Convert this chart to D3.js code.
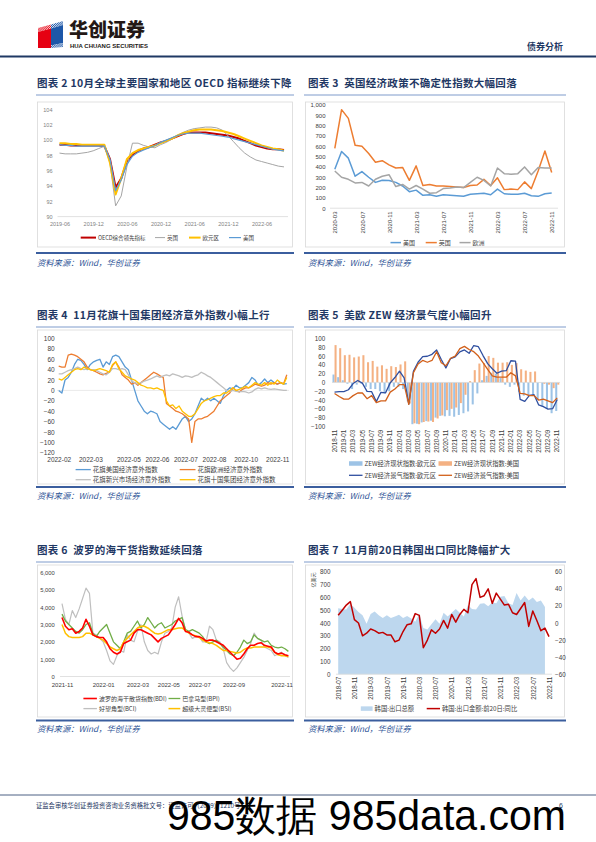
<!DOCTYPE html>
<html><head><meta charset="utf-8">
<script src="https://cdn.jsdelivr.net/npm/d3@7"></script>
<style>body{margin:0;background:#fff;}svg{display:block;}</style>
</head><body>
<svg id="page" width="596" height="842"></svg>
<script>
// ---------------- DATA ----------------
function monthSeq(y, m, n){const o=[];for(let i=0;i<n;i++){const k=m-1+i;o.push(`${y+Math.floor(k/12)}-${String(k%12+1).padStart(2,'0')}`);}return o;}

// Chart 2: OECD leading indicators (2019-06 .. 2022-10)
const months2 = monthSeq(2019,6,41);
const ticks2 = ['2019-06','2019-12','2020-06','2020-12','2021-06','2021-12','2022-06'];
const oecd2 = [99.4,99.4,99.3,99.3,99.3,99.3,99.3,99.3,99.2,97.5,93.8,95.0,97.2,98.1,98.6,98.9,99.1,99.4,99.7,99.9,100.2,100.5,100.8,101.0,101.0,101.0,101.0,100.9,100.8,100.7,100.6,100.4,100.2,99.9,99.6,99.3,99.1,98.9,98.8,98.8,98.7];
const uk2   = [98.3,98.2,98.2,98.2,98.3,98.4,98.6,98.9,99.2,97.0,91.4,92.7,96.5,99.6,99.6,99.3,99.1,99.0,99.4,99.7,100.1,100.6,101.0,101.3,101.5,101.6,101.7,101.7,101.6,101.3,100.6,99.8,99.0,98.3,97.8,97.4,97.2,97.0,96.8,96.6,96.5];
const euro2 = [99.6,99.6,99.5,99.5,99.4,99.4,99.4,99.4,99.4,97.0,92.9,95.0,97.5,98.3,98.7,98.9,99.1,99.3,99.6,99.9,100.2,100.6,100.9,101.1,101.3,101.4,101.4,101.4,101.3,101.2,101.0,100.8,100.5,100.2,99.9,99.6,99.3,99.1,98.9,98.8,98.6];
const us2   = [99.4,99.3,99.3,99.2,99.2,99.2,99.2,99.2,99.2,97.5,93.4,94.8,96.8,97.9,98.4,98.7,99.0,99.3,99.7,100.0,100.3,100.6,100.8,100.9,100.9,100.9,100.8,100.7,100.6,100.5,100.4,100.2,100.0,99.8,99.6,99.4,99.2,99.0,98.8,98.7,98.6];

// Chart 3: policy uncertainty (2020-03 .. 2022-11)
const months3 = monthSeq(2020,3,33);
const ticks3 = ['2020-03','2020-07','2020-11','2021-03','2021-07','2021-11','2022-03','2022-07','2022-11'];
const us3 = [377,550,485,310,355,300,250,270,268,250,215,160,175,125,130,115,130,125,120,115,135,140,145,130,185,140,135,135,145,120,115,140,148];
const uk3 = [580,955,870,610,600,530,445,460,420,390,395,270,410,220,230,215,215,210,205,200,220,225,280,220,295,180,185,180,255,190,360,555,345];
const eu3 = [360,300,280,245,250,215,280,310,325,210,230,185,220,185,145,150,190,195,205,200,250,300,270,215,390,335,330,335,400,325,395,390,390];

// Chart 4: Citi economic surprise indices (sampled trading days)
const tickIdx4 = [0,10,22,31,40,49,59,69];
const tickLab4 = ['2022-02','2022-03','2022-05','2022-06','2022-07','2022-08','2022-10','2022-11'];
const usSurp = [0,-5,20,25,35,50,60,58,50,40, 50,55,58,60,45,55,50,65,68,65, 55,45,40,20,0,-20,-30,-40,-45,-40, -42,-45,-60,-65,-70,-75,-70,-75,-65,-55, -50,-60,-55,-45,-30,-15,-20,-15,-20,-15, -20,-25,-10,0,5,3,10,5,5,10, 15,25,20,10,15,22,15,20,15,12, 15,12,13];
const euSurp = [47,45,45,68,70,68,65,60,55,45, 40,38,35,32,30,33,35,48,55,45, 30,25,20,12,15,10,15,20,25,30, 35,32,28,25,-25,-30,-35,-40,-42,-45, -50,-55,-100,-60,-55,-55,-52,-50,-45,-40, -30,-20,-15,-10,-5,5,0,-3,2,5, 5,8,12,10,8,10,15,12,15,12, 15,13,30];
const emSurp = [32,32,35,38,40,42,45,42,40,42, 40,40,38,35,32,30,35,42,42,40, 42,40,30,18,15,12,15,18,20,22, 25,28,25,28,30,28,32,30,28,25, 28,27,25,28,30,35,32,28,25,20, 15,10,5,0,-2,0,-2,-3,-2,-3, -5,-3,2,5,3,5,3,2,3,2, 1,0,0];
const g10Surp = [22,20,25,30,35,40,42,40,45,42, 40,38,40,42,40,38,35,50,55,42, 35,28,25,22,20,15,10,8,5,5, 3,5,2,0,-20,-30,-28,-35,-30,-40, -45,-50,-50,-45,-35,-25,-20,-18,-15,-12, -10,-10,-5,-5,0,5,0,2,5,8, 5,10,15,12,10,15,10,15,12,20, 15,12,25];

// Chart 5: ZEW (2018-11 .. 2022-11)
const months5 = monthSeq(2018,11,49);
const euCur5 = [18,12,5,-3,-15,-5,-3,-10,-15,-15, -20,-25,-20,-10,-10,-15,-43,-95,-94,-91, -88,-87,-80,-76,-77,-76,-78,-74,-70,-66, -50,-25,5,15,22,20,10,-5,-10,-5, -22,-30,-30,-27,-40,-55,-60,-70,-65];
const usCur5 = [85,78,62,63,57,59,62,46,49,36, 39,31,37,35,41,48,-48,-93,-95,-90, -89,-90,-82,-75,-63,-60,-57,-47,-28,3, 28,43,44,60,56,45,45,46,40,44, 30,27,24,25,0,-3,-5,-13,-5];
const euExp5 = [-22,-21,-20.9,-16.6,-2.5,4.5,-1.6,-20.2,-21.1,-43.6, -22.4,-23.5,-1,11.2,25.6,10.4,-49.5,25.2,46,58.6, 59.6,64,73.9,52.3,32.8,54.4,58.3,69.6,74,66.3, 84,81.3,61.2,42.7,31.1,21,25.9,26.8,49.4,48.6, -38.7,-43,-29.5,-28,-51.1,-54.9,-60.7,-59.7,-38.7];
const usExp5 = [-25,-32,-38,-38,-30,-24,-24,-37,-30,-46, -42,-42,-22,-15,-5,-5,-50,22,42,50, 46,50,70,45,38,55,60,77,82,75, 70,60,45,30,15,12,12,12,22,15, -25,-26,-30,-30,-40,-38,-42,-46,-35];

// Chart 6: Baltic indices (sampled trading days)
const tickIdx6 = [0,12,22,31,40,50,64];
const tickLab6 = ['2021-11','2022-01','2022-03','2022-05','2022-07','2022-09','2022-11'];
const bdi = [3400,2900,2700,2750,2500,2600,2800,3300,2900,2400, 2300,2250,2250,2000,1600,1400,1300,1400,1900,2000, 2100,2500,2700,2700,2600,2500,2400,2200,2000,2200, 2300,2400,2700,3000,3350,3100,2600,2550,2400,2300, 2300,2200,2050,2100,2100,2000,1900,1800,1600,1400, 1200,1000,1050,1300,1600,1800,1800,1900,1950,1800, 1750,1700,1400,1300,1350,1250,1200];
const bpi = [3600,3200,3000,2800,2600,2500,2700,3000,3100,2500, 2300,2600,2800,3000,2500,2000,1800,1600,2000,2500, 2600,2900,3200,2800,3000,3400,3100,2800,3000,3100, 2800,2900,3000,3200,3300,3400,2700,2600,2700,2600, 2500,2300,2000,1900,2000,2100,1900,1700,1500,1300, 1200,1400,1700,2100,1900,2000,2400,2200,2100,2000, 2050,1800,1700,1650,1700,1600,1450];
const bci = [4200,3300,3000,3800,3400,3900,4500,5100,4800,2500, 2400,2200,2000,1500,900,700,1200,1500,1400,2400, 2100,2000,2600,3000,2000,1500,1300,1400,1300,2000, 2500,2600,2800,4000,4600,3500,2700,2500,2200,2300, 2300,2000,2000,2900,2700,2100,2000,1600,800,500, 300,500,800,1100,1500,1900,2500,2200,2100,1700, 1600,1500,1200,1300,1400,1200,1100];
const bsi = [3000,2500,2300,2250,2250,2250,2300,2500,2500,2400, 2300,2200,2100,1900,1700,1600,1500,1600,2000,2200, 2400,2600,2800,2900,2900,2800,2650,2500,2450,2500, 2600,2700,2700,2750,2800,2800,2650,2500,2400,2350, 2250,2100,2000,1950,1900,1800,1650,1500,1500,1450, 1400,1350,1400,1550,1650,1650,1700,1700,1700,1700, 1700,1650,1400,1250,1200,1200,1150];

// Chart 7: Korea exports (2018-07 .. 2022-11)
const months7 = monthSeq(2018,7,53);
const ticks7 = ['2018-07','2018-11','2019-03','2019-07','2019-11','2020-03','2020-07','2020-11','2021-03','2021-07','2021-11','2022-03','2022-07','2022-11'];
const krExport = [515,510,505,550,520,485,460,395,470,490,460,440,460,440,450,465,440,455,435,410,470,360,350,390,430,395,480,450,480,510,480,450,540,510,505,550,555,530,560,555,605,610,555,540,635,575,615,575,600,565,575,525];
const krYoY20 = [9,15,21,25,4,0,-15,-12,-7,-9,-12,-11,-14,-14,-22,-20,-10,-2,-1,11,9,-29,-20,-8,-12,-7,3,-6,10,1,10,16,12,45,52,30,32,40,23,35,28,21,22,12,10,17,24,-4,14,3,-9,-6,-16];

// ---------------- DRAW ----------------
const svg = d3.select('#page');
svg.append('rect').attr('width',596).attr('height',842).attr('fill','#fff');
const FCJK = '"Noto Sans CJK SC","Noto Sans",sans-serif';
const FLAT = '"Liberation Sans",Arial,sans-serif';
const NAVY = '#1F3864';
const TXT = '#404040';

// header
const defs = svg.append('defs');
function hatch(id,color){
  const p=defs.append('pattern').attr('id',id).attr('patternUnits','userSpaceOnUse')
    .attr('width',1.5).attr('height',1.5).attr('patternTransform','rotate(45)');
  p.append('rect').attr('width',1.5).attr('height',1.5).attr('fill','#fff');
  p.append('rect').attr('width',0.85).attr('height',1.5).attr('fill',color);
}
hatch('hR','#E60012'); hatch('hB','#1D57A8');
const poly=(pts,fill)=>svg.append('polygon').attr('points',pts.map(p=>p.join(',')).join(' ')).attr('fill',fill);
poly([[38,32],[38,28],[51,24.5],[51,28.5]],'url(#hR)');
poly([[51,24.5],[63,21],[63,25],[51,28.5]],'url(#hB)');
poly([[38,32],[51,28.5],[51,48],[38,48]],'#E60012');
poly([[51,28.5],[63,25],[63,43],[51,45.5]],'#1D57A8');
poly([[51,45.5],[63,43],[63,47],[51,48]],'url(#hB)');
svg.append('text').attr('x',69).attr('y',37).text('华创证券')
  .attr('font-family',FCJK).attr('font-weight',900).attr('font-size',19).attr('fill','#231815');
svg.append('text').attr('x',70).attr('y',47.8).text('HUA CHUANG SECURITIES')
  .attr('font-family',FLAT).attr('font-weight',700).attr('font-size',5.6).attr('fill','#231815')
  .attr('textLength',78).attr('lengthAdjust','spacingAndGlyphs');
svg.append('text').attr('x',563).attr('y',50).attr('text-anchor','end').text('债券分析')
  .attr('font-family',FCJK).attr('font-weight',700).attr('font-size',9).attr('fill',NAVY);
svg.append('line').attr('x1',0).attr('x2',596).attr('y1',56.5).attr('y2',56.5).attr('stroke',NAVY).attr('stroke-width',2);

// frames
const cols = [{x0:36,x1:294,tx:37},{x0:304,x1:566,tx:308}];
const rows = [{tb:87,ul:95,bt:102,bb:247,bl:253,sy:266},{tb:319,ul:327,bt:330,bb:484,bl:487,sy:499},{tb:554,ul:562,bt:565,bb:717,bl:720.5,sy:732}];
function frame(c,r,title){
  const C=cols[c],R=rows[r];
  svg.append('text').attr('x',C.tx).attr('y',R.tb).text(title).style('white-space','pre')
    .attr('font-family',FCJK).attr('font-weight',700).attr('font-size',10.5).attr('letter-spacing',0.3).attr('fill',NAVY);
  svg.append('line').attr('x1',C.x0).attr('x2',C.x1).attr('y1',R.ul).attr('y2',R.ul).attr('stroke','#7F9BCB').attr('stroke-width',1);
  svg.append('rect').attr('x',C.x0+1.5).attr('y',R.bt).attr('width',C.x1-C.x0-3).attr('height',R.bb-R.bt)
    .attr('fill','none').attr('stroke','#D9D9D9').attr('stroke-width',0.8);
  svg.append('line').attr('x1',C.x0).attr('x2',C.x1).attr('y1',R.bl).attr('y2',R.bl).attr('stroke','#3B5E9E').attr('stroke-width',1.8);
  svg.append('text').attr('x',C.tx).attr('y',R.sy).text('资料来源：Wind，华创证券')
    .attr('font-family',FCJK).attr('font-style','italic').attr('font-size',8.3).attr('fill','#2F5597');
}
frame(0,0,'图表 2 10月全球主要国家和地区 OECD 指标继续下降');
frame(1,0,'图表 3  英国经济政策不确定性指数大幅回落');
frame(0,1,'图表 4  11月花旗十国集团经济意外指数小幅上行');
frame(1,1,'图表 5  美欧 ZEW 经济景气度小幅回升');
frame(0,2,'图表 6  波罗的海干货指数延续回落');
frame(1,2,'图表 7  11月前20日韩国出口同比降幅扩大');

// helpers
function styleTexts(g,size,color){g.select('.domain').remove();g.selectAll('text').attr('font-family',FLAT).attr('font-size',size).attr('fill',color);}
function yAxisL(scale,xpos,vals,fmt,size,color){const g=svg.append('g').attr('transform',`translate(${xpos},0)`).call(d3.axisLeft(scale).tickValues(vals).tickFormat(fmt).tickSize(0).tickPadding(0));styleTexts(g,size,color);return g;}
function yAxisR(scale,xpos,vals,fmt,size,color){const g=svg.append('g').attr('transform',`translate(${xpos},0)`).call(d3.axisRight(scale).tickValues(vals).tickFormat(fmt).tickSize(0).tickPadding(0));styleTexts(g,size,color);return g;}
function xAxisB(scale,ypos,vals,fmt,size,color,pad){const g=svg.append('g').attr('transform',`translate(0,${ypos})`).call(d3.axisBottom(scale).tickValues(vals).tickFormat(fmt).tickSize(0).tickPadding(pad));styleTexts(g,size,color);return g;}
function xAxisRot(scale,ypos,vals,size,color,pad){
  const g=svg.append('g').attr('transform',`translate(0,${ypos})`).call(d3.axisBottom(scale).tickValues(vals).tickSize(0));
  styleTexts(g,size,color);
  g.selectAll('text').attr('y',0).attr('x',-pad).attr('dy','0.35em').attr('transform','rotate(-90)').attr('text-anchor','end');
  return g;
}
function hline(x1,x2,y,color){svg.append('line').attr('x1',x1).attr('x2',x2).attr('y1',y).attr('y2',y).attr('stroke',color).attr('stroke-width',0.8);}
function path(data,xf,yf,color,w){svg.append('path').datum(data).attr('d',d3.line().x(xf).y(yf)).attr('fill','none').attr('stroke',color).attr('stroke-width',w).attr('stroke-linejoin','round');}
function legLine(x1,x2,y,color,w,label,size){
  svg.append('line').attr('x1',x1).attr('x2',x2).attr('y1',y).attr('y2',y).attr('stroke',color).attr('stroke-width',w);
  svg.append('text').attr('x',x2+2).attr('y',y).attr('dy','0.35em').text(label).attr('font-family',FCJK).attr('font-size',size).attr('fill',TXT);
}
function legRect(x1,x2,y,h,color,label,size){
  svg.append('rect').attr('x',x1).attr('y',y-h/2).attr('width',x2-x1).attr('height',h).attr('fill',color);
  svg.append('text').attr('x',x2+2).attr('y',y).attr('dy','0.35em').text(label).attr('font-family',FCJK).attr('font-size',size).attr('fill',TXT);
}

// ---- Chart 2 ----
{
  const x=d3.scalePoint().domain(months2).range([59.5,284]);
  const y=d3.scaleLinear().domain([90,104]).range([216.6,109.5]);
  yAxisL(y,52.5,d3.range(90,105,2),d3.format('d'),5.5,'#7F7F7F');
  hline(57.5,288,y(90),'#D9D9D9');
  xAxisB(x,y(90),ticks2,d=>d,5.5,'#7F7F7F',5.5);
  const X=(d,i)=>x(months2[i]), Y=d=>y(d);
  path(oecd2,X,Y,'#C00000',2);
  path(uk2,X,Y,'#A5A5A5',1);
  path(euro2,X,Y,'#FFC000',2);
  path(us2,X,Y,'#5B9BD5',1.2);
  legLine(80.7,96,237.6,'#C00000',2,'OECD综合领先指标',5.5);
  legLine(155,165,237.6,'#A5A5A5',1,'英国',5.5);
  legLine(189,200.6,237.6,'#FFC000',2,'欧元区',5.5);
  legLine(229,241,237.6,'#5B9BD5',1.2,'美国',5.5);
}

// ---- Chart 3 ----
{
  const x=d3.scalePoint().domain(months3).range([334.8,551.7]);
  const y=d3.scaleLinear().domain([0,1000]).range([208.2,105]);
  yAxisL(y,325.5,d3.range(0,1001,100),d3.format(','),6,TXT);
  hline(330,558,y(0),'#D9D9D9');
  xAxisRot(x,y(0),ticks3,6,TXT,3.3);
  const X=(d,i)=>x(months3[i]), Y=d=>y(d);
  path(us3,X,Y,'#5B9BD5',1.5);
  path(uk3,X,Y,'#ED7D31',1.5);
  path(eu3,X,Y,'#A5A5A5',1.5);
  legLine(390.5,401,242.6,'#5B9BD5',1.5,'美国',6);
  legLine(425.7,436.8,242.6,'#ED7D31',1.5,'英国',6);
  legLine(459.5,470.6,242.6,'#A5A5A5',1.5,'欧洲',6);
}

// ---- Chart 4 ----
{
  const x=d3.scaleLinear().domain([0,72]).range([58.7,286.8]);
  const y=d3.scaleLinear().domain([-120,100]).range([452.7,338.5]);
  yAxisL(y,54.7,d3.range(-120,101,20),d3.format('d'),6.5,TXT);
  hline(57,289,y(0),'#E4E4E4');
  xAxisB(x,y(-120),tickIdx4,(d,i)=>tickLab4[i],6.5,TXT,5);
  const X=(d,i)=>x(i), Y=d=>y(d);
  path(usSurp,X,Y,'#5B9BD5',1.3);
  path(euSurp,X,Y,'#ED7D31',1.3);
  path(emSurp,X,Y,'#BFBFBF',1.3);
  path(g10Surp,X,Y,'#FFC000',1.3);
  legLine(75.6,90.8,469.6,'#5B9BD5',1.3,'花旗美国经济意外指数',6.5);
  legLine(179.7,195.5,469.6,'#ED7D31',1.3,'花旗欧洲经济意外指数',6.5);
  legLine(75.6,90.8,479.7,'#BFBFBF',1.3,'花旗新兴市场经济意外指数',6.5);
  legLine(179.7,195.5,479.7,'#FFC000',1.3,'花旗十国集团经济意外指数',6.5);
}

// ---- Chart 5 ----
{
  const xb=d3.scaleBand().domain(months5).range([332.5,559.3]).paddingInner(0.12);
  const xi=d3.scaleBand().domain(['eu','us']).range([0,xb.bandwidth()]);
  const y=d3.scaleLinear().domain([-100,100]).range([426.4,338.5]);
  yAxisL(y,325.3,d3.range(-100,101,20),d3.format('d'),6.3,TXT);
  const ticks5=months5.filter((d,i)=>i%2===0);
  xAxisRot(xb,y(-100),ticks5,6.3,TXT,3.3);
  const bars=(vals,key,color)=>svg.append('g').selectAll('rect').data(vals).join('rect')
    .attr('x',(d,i)=>xb(months5[i])+xi(key)).attr('width',xi.bandwidth())
    .attr('y',d=>y(Math.max(0,d))).attr('height',d=>Math.abs(y(d)-y(0))).attr('fill',color);
  bars(euCur5,'eu','#9DC3E6');
  bars(usCur5,'us','#F4B183');
  hline(332,560,y(0),'#D9D9D9');
  const X=(d,i)=>xb(months5[i])+xb.bandwidth()/2, Y=d=>y(d);
  path(euExp5,X,Y,'#2F4FA0',1.3);
  path(usExp5,X,Y,'#D2601A',1.3);
  legRect(349,362.5,463.5,4.5,'#9DC3E6','ZEW经济现状指数:欧元区',6.3);
  legRect(438.5,452,463.5,4.5,'#F4B183','ZEW经济现状指数:美国',6.3);
  legLine(349,362.5,475.3,'#2F4FA0',1.3,'ZEW经济景气指数:欧元区',6.3);
  legLine(438.5,452,475.3,'#D2601A',1.3,'ZEW经济景气指数:美国',6.3);
}

// ---- Chart 6 ----
{
  const x=d3.scaleLinear().domain([0,66]).range([62,288.4]);
  const y=d3.scaleLinear().domain([0,6000]).range([676.5,572.5]);
  yAxisL(y,54.7,d3.range(0,6001,1000),d3.format(','),5.8,TXT);
  hline(60,290,y(0),'#D9D9D9');
  xAxisB(x,y(0),tickIdx6,(d,i)=>tickLab6[i],6,TXT,5.8);
  const X=(d,i)=>x(i), Y=d=>y(d);
  path(bci,X,Y,'#BFBFBF',1.2);
  path(bpi,X,Y,'#70AD47',1.3);
  path(bsi,X,Y,'#FFC000',1.5);
  path(bdi,X,Y,'#FF0000',1.6);
  legLine(83.4,96.9,698.5,'#FF0000',1.6,'波罗的海干散货指数(BDI)',6);
  legLine(168.5,180.3,698.5,'#70AD47',1.3,'巴拿马型(BPI)',6);
  legLine(83.4,96.9,708.6,'#BFBFBF',1.3,'好望角型(BCI)',6);
  legLine(168.5,180.3,708.6,'#FFC000',1.5,'超级大灵便型(BSI)',6);
}

// ---- Chart 7 ----
{
  const x=d3.scalePoint().domain(months7).range([338.2,549]);
  const yL=d3.scaleLinear().domain([0,800]).range([674.2,571.8]);
  const yR=d3.scaleLinear().domain([-60,60]).range([674.2,571.8]);
  yAxisL(yL,330.4,d3.range(0,801,100),d3.format('d'),6.3,TXT);
  yAxisR(yR,555,d3.range(-60,61,20),d3.format('d'),6.3,TXT);
  svg.append('text').attr('transform','translate(313.5,580) rotate(-90)').attr('text-anchor','middle').attr('dy','0.35em')
    .text('亿美元').attr('font-family',FCJK).attr('font-size',5).attr('fill',TXT);
  svg.append('path').datum(krExport)
    .attr('d',d3.area().x((d,i)=>x(months7[i])).y0(yL(0)).y1(d=>yL(d)))
    .attr('fill','#BDD7EE');
  hline(336,552,yL(0),'#D9D9D9');
  xAxisRot(x,yL(0),ticks7,6.3,TXT,2.5);
  path(krYoY20,(d,i)=>x(months7[i]),d=>yR(d),'#C00000',1.5);
  legRect(360.8,372.6,708.6,4.5,'#BDD7EE','韩国:出口总额',6.3);
  legLine(426.7,440,708.6,'#C00000',1.5,'韩国:出口金额:前20日:同比',6.3);
}

// footer
svg.append('line').attr('x1',0).attr('x2',596).attr('y1',795).attr('y2',795).attr('stroke',NAVY).attr('stroke-width',0.8);
svg.append('text').attr('x',36).attr('y',808).text('证监会审核华创证券投资咨询业务资格批文号：证监许可（2009）1210号')
  .attr('font-family',FCJK).attr('font-size',6.3).attr('fill',NAVY);
svg.append('text').attr('x',563).attr('y',808).attr('text-anchor','end').text('6')
  .attr('font-family',FLAT).attr('font-size',7).attr('fill',NAVY);
svg.append('text').attr('x',167).attr('y',830).text('985数据 985data.com')
  .attr('font-family',FLAT).attr('font-size',42).attr('fill','#000')
  .attr('textLength',399).attr('lengthAdjust','spacingAndGlyphs');
</script>
</body></html>
